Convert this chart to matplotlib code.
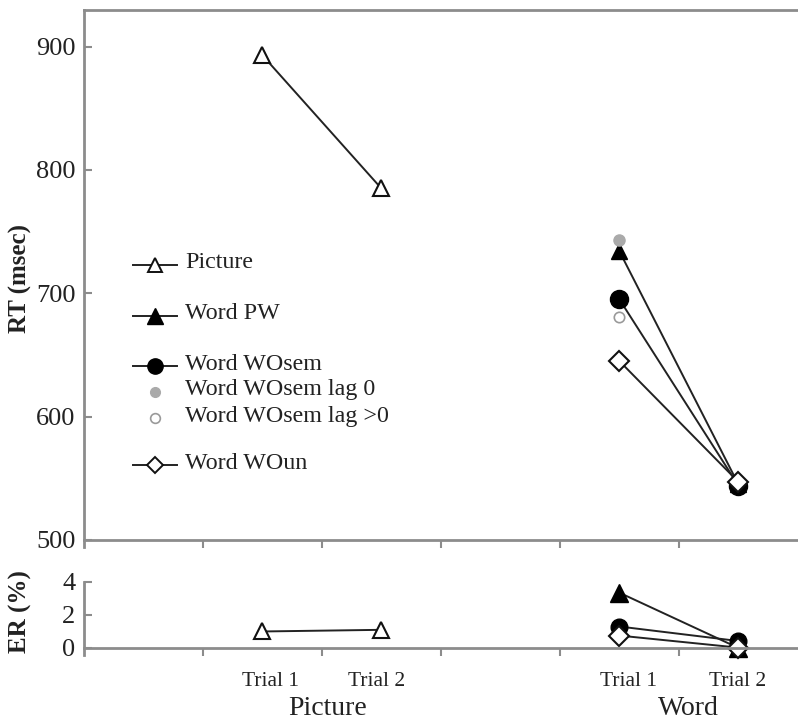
import matplotlib
matplotlib.use("Agg")
import matplotlib.pyplot as plt
from matplotlib.lines import Line2D

# --- donnees ---
x_picture = [1.5, 2.5]
x_word = [4.5, 5.5]

rt_picture = [893, 785]
rt_word_pw = [734, 545]
rt_word_wosem = [695, 544]
rt_word_woun = [645, 547]
rt_wosem_lag0 = [743]
rt_wosem_lagpos = [681]

er_picture = [1.0, 1.1]
er_word_pw = [3.35, 0.0]
er_word_wosem = [1.3, 0.42]
er_word_woun = [0.75, 0.02]

trial_labels = ["Trial 1", "Trial 2", "Trial 1", "Trial 2"]
group_labels = ["Picture", "Word"]
legend_labels = ["Picture", "Word PW", "Word WOsem", "Word WOsem lag 0",
                 "Word WOsem lag >0", "Word WOun"]

plt.rcParams["font.family"] = ["Liberation Serif", "DejaVu Serif"]

SPINE = "#8c8c8c"
LINE = "#222222"
TXT = "#222222"

fig = plt.figure(figsize=(7.98, 7.21), dpi=100)
ax = fig.add_axes([0.1049, 0.2408, 0.8951, 0.7460])
ax2 = fig.add_axes([0.1049, 0.0910, 0.8951, 0.1018])

# styles des series
s_pic = dict(marker="^", mfc="white", mec="#111111", mew=1.5, color=LINE, lw=1.4)
s_pw = dict(marker="^", mfc="black", mec="black", color=LINE, lw=1.4)
s_sem = dict(marker="o", mfc="black", mec="black", color=LINE, lw=1.4)
s_un = dict(marker="D", mfc="white", mec="#111111", mew=1.5, color=LINE, lw=1.4)

# 1. RT
ax.plot(x_picture, rt_picture, ms=11, **s_pic)
ax.plot(x_word, rt_word_pw, ms=12, **s_pw)
ax.plot(x_word, rt_word_wosem, ms=13, **s_sem)
ax.plot(x_word, rt_word_woun, ms=10, **s_un)
ax.plot(x_word[:1], rt_wosem_lag0, "o", ms=8, mfc="#aaaaaa", mec="#aaaaaa")
ax.plot(x_word[:1], rt_wosem_lagpos, "o", ms=7.5, mfc="white", mec="#9a9a9a", mew=1.2)

ax.set_xlim(0, 6)
ax.set_ylim(494, 930)
ax.set_yticks([500, 600, 700, 800, 900])
ax.set_xticks([1, 2, 3, 4, 5])
ax.set_xticklabels([])
ax.spines["right"].set_visible(False)
ax.spines["bottom"].set_position(("data", 500))
for sp in ["left", "top", "bottom"]:
    ax.spines[sp].set_color(SPINE)
    ax.spines[sp].set_linewidth(2)
ax.tick_params(axis="y", direction="in", length=6, width=1.5, color=SPINE,
               labelsize=19, labelcolor=TXT, pad=6)
ax.tick_params(axis="x", direction="out", length=6, width=1.5, color=SPINE)
ax.set_ylabel("RT (msec)", fontsize=18, fontweight="bold", color=TXT)
ax.yaxis.set_label_coords(-0.073, 0.5)

# legende manuelle
leg_y = [0.5251, 0.4308, 0.3364, 0.2892, 0.2402, 0.1523]
leg_styles = [
    dict(marker="^", mfc="white", mec="#111111", mew=1.4, ms=10),
    dict(marker="^", mfc="black", mec="black", ms=11),
    dict(marker="o", mfc="black", mec="black", ms=11),
    dict(marker="o", mfc="#aaaaaa", mec="#aaaaaa", ms=7),
    dict(marker="o", mfc="white", mec="#9a9a9a", mew=1.2, ms=7),
    dict(marker="D", mfc="white", mec="#111111", mew=1.4, ms=8),
]
leg_line = [True, True, True, False, False, True]
for lab, y, st, has_line in zip(legend_labels, leg_y, leg_styles, leg_line):
    if has_line:
        ax.add_line(Line2D([0.069, 0.1306], [y, y], transform=ax.transAxes,
                           color=LINE, lw=1.4))
    ax.add_line(Line2D([0.1], [y], transform=ax.transAxes, ls="none", **st))
    ax.text(0.142, y + 0.004, lab, transform=ax.transAxes, fontsize=17.3,
            color=TXT, va="center", ha="left")

# 2. ER
ax2.plot(x_picture, er_picture, ms=11, **s_pic)
ax2.plot(x_word, er_word_pw, ms=13, **s_pw)
ax2.plot(x_word, er_word_wosem, ms=12, **s_sem)
ax2.plot(x_word, er_word_woun, ms=10, **s_un)

ax2.set_xlim(0, 6)
ax2.set_ylim(-0.45, 4)
ax2.set_yticks([0, 2, 4])
ax2.set_xticks([1, 2, 3, 4, 5])
ax2.set_xticklabels([])
ax2.set_xticks([1.57, 2.46, 4.58, 5.49], minor=True)
ax2.set_xticklabels(trial_labels, minor=True)
ax2.spines["right"].set_visible(False)
ax2.spines["top"].set_visible(False)
ax2.spines["bottom"].set_position(("data", 0))
for sp in ["left", "bottom"]:
    ax2.spines[sp].set_color(SPINE)
    ax2.spines[sp].set_linewidth(2)
ax2.spines["left"].set_bounds(-0.45, 4)
ax2.tick_params(axis="y", direction="in", length=6, width=1.5, color=SPINE,
                labelsize=19, labelcolor=TXT, pad=6)
ax2.tick_params(axis="x", which="major", direction="out", length=6, width=1.5,
                color=SPINE)
ax2.tick_params(axis="x", which="minor", length=0, labelsize=15.5,
                labelcolor=TXT, pad=17)
ax2.set_ylabel("ER (%)", fontsize=18, fontweight="bold", color=TXT)
ax2.yaxis.set_label_coords(-0.073, 0.6)

for gx, lab in zip([2.05, 5.08], group_labels):
    ax2.text(gx, -0.73, lab, transform=ax2.get_xaxis_transform(), fontsize=20,
             color=TXT, ha="center", va="center")

for a in (ax, ax2):
    a.set_facecolor("none")
    for line in a.get_lines():
        line.set_clip_on(False)

fig.savefig("out.png", dpi=100)
